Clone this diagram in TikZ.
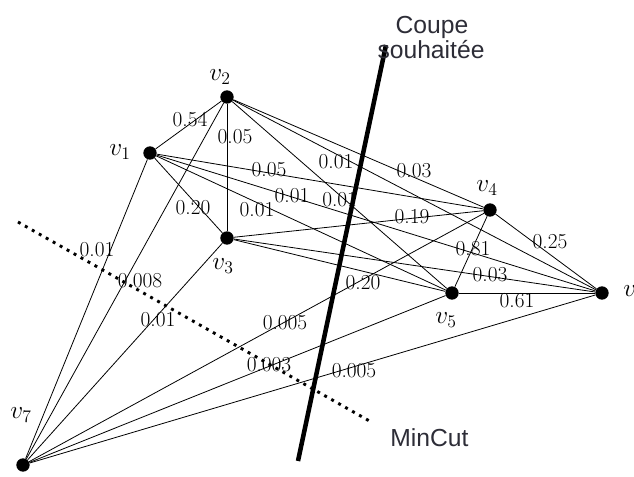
\RequirePackage{fix-cm}
\documentclass[tikz,border=0pt]{standalone}
\usepackage{amsmath}
\usepackage{fontspec}
\setsansfont{Liberation Sans}
\usepackage{tikz}
\definecolor{legendgray}{RGB}{45,45,55}

\begin{document}
\begin{tikzpicture}[x=0.75pt, y=-0.75pt,
    vertex/.style={circle, fill=black, inner sep=0pt, minimum size=10pt},
    edge/.style={line width=0.6pt},
    weight/.style={inner sep=0pt, font=\fontsize{16}{16}\selectfont},
    vname/.style={inner sep=0pt, font=\fontsize{19}{19}\selectfont},
    legend/.style={inner sep=0pt, text=legendgray,
      font=\sffamily\fontsize{18.5}{18.5}\selectfont}]
  \useasboundingbox (0,0) rectangle (634,477);

  % sommets
    \node[vertex] (v1) at (150,153) {};
    \node[vertex] (v2) at (227,97) {};
    \node[vertex] (v3) at (227,238) {};
    \node[vertex] (v4) at (490,210) {};
    \node[vertex] (v5) at (452,293) {};
    \node[vertex] (v6) at (602,293) {};
    \node[vertex] (v7) at (23,465) {};

    \node[vname] (l1) at (120,152) {$v_1$};
    \node[vname] (l2) at (220,77) {$v_2$};
    \node[vname] (l3) at (223,266) {$v_3$};
    \node[vname] (l4) at (487,188) {$v_4$};
    \node[vname] (l5) at (446,320) {$v_5$};
    \node[vname] (l6) at (634,293) {$v_6$};
    \node[vname] (l7) at (21,415) {$v_7$};

  % aretes (graphe complet)
    \foreach \a/\b in {v1/v2, v1/v3, v1/v4, v1/v5, v1/v6, v1/v7,
                       v2/v3, v2/v4, v2/v5, v2/v6, v2/v7,
                       v3/v4, v3/v5, v3/v6, v3/v7,
                       v4/v5, v4/v6, v4/v7,
                       v5/v6, v5/v7, v6/v7}
      \draw[edge] (\a) -- (\b);

  % poids
    \foreach \name/\x/\y/\w in {w12/190/120/0.54, w23/235/137/0.05,
        w14/269/170/0.05, w16/292/196/0.01, w13/193/208/0.20,
        w15/257/210/0.01, w26/336/162/0.01, w24/414/171/0.03,
        w34/412/217/0.19, w45/473/249/0.81, w36/490/275/0.03,
        w35/363/283/0.20, w56/517/301/0.61, w46/550/242/0.25,
        w47/285/323/0.005, w57/269/365/0.003, w67/354/371/0.005,
        w17/97/250/0.01, w27/140/281/0.008, w37/158/320/0.01}
      \node[weight] (\name) at (\x,\y) {\w};
    \node[weight, anchor=west] (w25) at (322,200) {0.01};

  % coupes
    \coordinate (minA) at (18,222);
    \coordinate (minB) at (373,423);
    \draw[line width=2.2pt, dash pattern=on 2.2pt off 3.8pt] (minA) -- (minB);

    \coordinate (cutA) at (386,45);
    \coordinate (cutB) at (298,461);
    \draw[line width=3.4pt] (cutA) -- (cutB);

    \node[legend, anchor=base] (coupe) at (432,34) {Coupe};
    \node[legend, anchor=base] (souh) at (431,59) {souhaitée};
    \node[legend, anchor=base west] (mincut) at (390,446) {MinCut};
\end{tikzpicture}
\end{document}
